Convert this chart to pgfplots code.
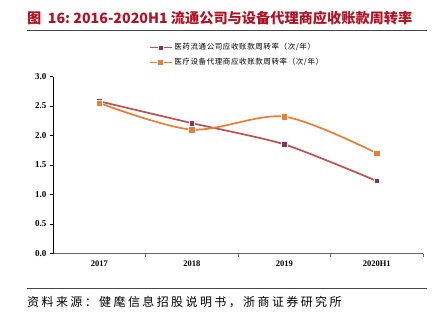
\documentclass[border=0pt]{standalone}
\usepackage{fontspec}
\setmainfont{Liberation Serif}
\newfontfamily\cjk{Noto Sans CJK SC}
\usepackage{pgfplots}
\pgfplotsset{compat=1.18}
\definecolor{titlered}{RGB}{178,18,36}
\definecolor{redline}{RGB}{192,80,77}
\definecolor{redmark}{RGB}{145,45,95}
\definecolor{orangeline}{RGB}{237,125,49}
\definecolor{rulegray}{RGB}{70,70,70}
\begin{document}
\begin{tikzpicture}[x=1pt,y=1pt]
\useasboundingbox (0pt,0pt) rectangle (433pt,-327pt);
\fill[white] (0pt,0pt) rectangle (433pt,-327pt);
\node[anchor=west,inner sep=0pt,text=titlered,font=\cjk\bfseries\fontsize{14.2}{16}\selectfont] at (27pt,-18pt) {图\ \ 16:\ 2016-2020H1 流通公司与设备代理商应收账款周转率};
\draw[rulegray,line width=0.9pt] (27pt,-30.5pt) -- (427pt,-30.5pt);
\draw[rulegray,line width=0.9pt] (27pt,-288pt) -- (427pt,-288pt);
\node[anchor=west,inner sep=0pt,font=\cjk\fontsize{12}{14}\selectfont\addfontfeature{LetterSpace=20}] at (27pt,-302pt) {资料来源：健麾信息招股说明书，浙商证券研究所};
\begin{axis}[
  at={(53pt,-253.5pt)}, anchor=south west,
  scale only axis, width=370pt, height=177pt,
  xmin=-0.5, xmax=3.5, ymin=0, ymax=3,
  axis x line*=bottom, axis y line*=left,
  x axis line style={draw=black!60,line width=1.6pt},
  y axis line style={draw=black,line width=0.8pt},
  tick align=outside,
  ytick={0,0.5,...,3},
  yticklabel style={/pgf/number format/fixed,/pgf/number format/fixed zerofill,/pgf/number format/precision=1,font=\bfseries\fontsize{9}{10}\selectfont},
  /pgf/number format/assume math mode=true,
  ytick style={draw=black,line width=0.8pt},
  major tick length=3pt,
  xtick={0.5,1.5,2.5,3.5},
  xticklabels={},
  xtick style={draw=black!60,line width=0.8pt},
  extra x ticks={0,1,2,3},
  extra x tick labels={2017,2018,2019,2020H1},
  extra x tick style={major tick length=0pt,xticklabel style={font=\bfseries\fontsize{8.5}{10}\selectfont,yshift=-4pt}},
  legend style={at={(0.25,1.21)},anchor=north west,draw=none,fill=none,
    font=\cjk\fontsize{7.5}{9}\selectfont\addfontfeature{LetterSpace=8},row sep=3pt,
    legend cell align=left},
  legend image code/.code={\draw[line width=1.7pt,#1,mark repeat=2,mark phase=2] plot coordinates {(0pt,0pt) (11pt,0pt) (22pt,0pt)};},
]
\addplot[redline,line width=1.7pt,smooth,tension=0.4,mark=square*,mark size=2.7pt,
  mark options={fill=redmark,draw=white,line width=0.4pt}]
  coordinates {(0,2.58) (1,2.21) (2,1.85) (3,1.23)};
\addlegendentry{医药流通公司应收账款周转率（次/年）}
\addplot[orangeline,line width=1.7pt,smooth,tension=0.5,mark=square*,mark size=3.1pt,
  mark options={fill=orangeline,draw=white,line width=0.4pt}]
  coordinates {(0,2.55) (1,2.10) (2,2.32) (3,1.70)};
\addlegendentry{医疗设备代理商应收账款周转率（次/年）}
\end{axis}
\end{tikzpicture}
\end{document}
